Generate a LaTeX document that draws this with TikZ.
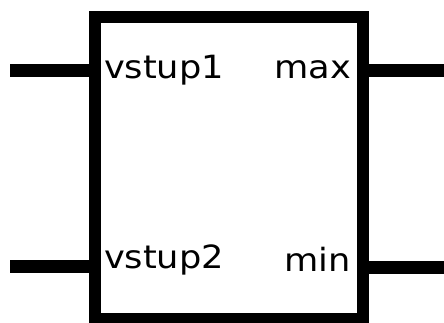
\documentclass[tikz,border=0pt]{standalone}
\usepackage{fontspec}
\setmainfont{DejaVu Sans}
\begin{document}
\begin{tikzpicture}[x=1pt,y=-1pt,
  blockbox/.style={draw=black,line width=12.5pt,inner sep=0pt,outer sep=0pt,
    minimum width=268pt,minimum height=302.5pt},
  wire/.style={line width=13pt,line cap=butt},
  lbl/.style={inner sep=0pt,outer sep=0pt,font=\fontsize{32}{38}\selectfont}]
\useasboundingbox (0,0) rectangle (444,322);
\clip (0,0) rectangle (444,322);
\node[blockbox] (blk) at (229,168.25) {};
\coordinate (in1) at (10,70);
\coordinate (in2) at (10,266);
\coordinate (out1) at (444,70);
\coordinate (out2) at (444,267);
\draw[wire] (in1) -- (blk.west |- in1);
\draw[wire] (in2) -- (blk.west |- in2);
\draw[wire] (blk.east |- out1) -- (out1);
\draw[wire] (blk.east |- out2) -- (out2);
\node[lbl,anchor=base west] (l1) at (104,78) {\scalebox{1.1}[1]{vstup1}};
\node[lbl,anchor=base west] (l2) at (104,268) {\scalebox{1.1}[1]{vstup2}};
\node[lbl,anchor=base east] (r1) at (351,78) {\scalebox{1.1}[1]{max}};
\node[lbl,anchor=base east] (r2) at (351,271) {\scalebox{1.1}[1]{min}};
\end{tikzpicture}
\end{document}
